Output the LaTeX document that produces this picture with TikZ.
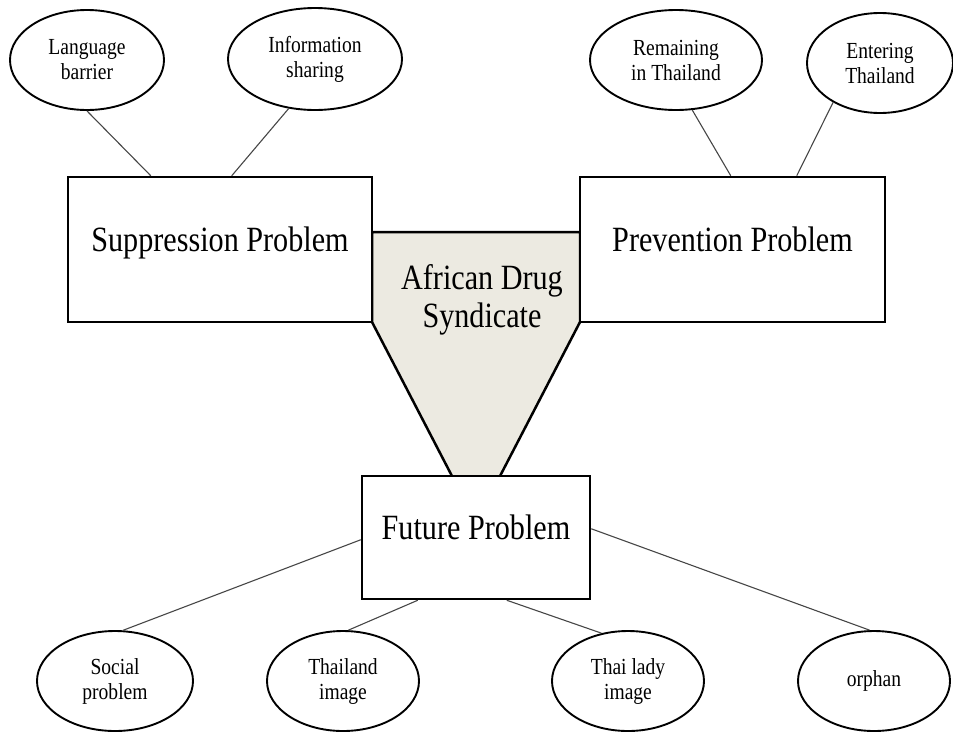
\documentclass[tikz,border=0pt]{standalone}
\usepackage{fontspec}
\setmainfont{Liberation Serif}[FakeStretch=0.85]
\usetikzlibrary{shapes.geometric}
\definecolor{funnelfill}{RGB}{236,234,225}
\definecolor{linkgray}{RGB}{70,70,70}
\begin{document}
\begin{tikzpicture}[x=1pt,y=-1pt,
  bigbox/.style={draw=black,line width=2.5pt,fill=white,rectangle,inner sep=0pt,
    text height=0.7em,text depth=0.22em,font=\fontsize{35.5}{38}\selectfont},
  topic/.style={draw=black,line width=1.9pt,fill=white,ellipse,inner sep=0pt,
    align=center,font=\fontsize{23}{25}\selectfont},
  link/.style={draw=linkgray,line width=1.1pt}]
\useasboundingbox (0,0) rectangle (953,731);

% central funnel, its tip tucked under the top edge of the lower box
\filldraw[fill=funnelfill,line width=2.5pt,line join=miter]
  (372,232) -- (580,232) -- (580,322) -- (499,478) -- (453,478) -- (372,322) -- cycle;
\node[align=center,font=\fontsize{35.5}{38}\selectfont] (ads) at (482,300)
  {African Drug\\Syndicate};

% problem boxes
\node[bigbox,minimum width=304pt,minimum height=145pt] (sup) at (220,249.5) {Suppression Problem};
\node[bigbox,minimum width=305pt,minimum height=145pt] (prev) at (732.5,249.5) {Prevention Problem};
\node[bigbox,minimum width=228pt,minimum height=123pt] (fut) at (476,537.5) {Future Problem};

% top topics
\node[topic,minimum width=154pt,minimum height=100pt] (lb) at (87,60) {Language\\barrier};
\node[topic,minimum width=174pt,minimum height=102pt] (is) at (315,59) {Information\\sharing};
\node[topic,minimum width=172pt,minimum height=100pt] (rt) at (676,60) {Remaining\\in Thailand};
\node[topic,minimum width=146pt,minimum height=100pt] (et) at (880,63) {Entering\\Thailand};

% bottom topics
\node[topic,minimum width=156pt,minimum height=100pt] (sp) at (115,681) {Social\\problem};
\node[topic,minimum width=152pt,minimum height=100pt] (ti) at (343,681) {Thailand\\image};
\node[topic,minimum width=152pt,minimum height=100pt] (tl) at (628,681) {Thai lady\\image};
\node[topic,minimum width=152pt,minimum height=100pt] (or) at (874,681) {orphan};

% connectors
\draw[link] (lb.south) -- ([xshift=84pt]sup.north west);
\draw[link] (is.242) -- ([xshift=165pt]sup.north west);
\draw[link] (rt.288) -- ([xshift=152pt]prev.north west);
\draw[link] (et.220) -- ([xshift=218pt]prev.north west);
\draw[link] (sp.81) -- ([yshift=-65pt]fut.north west);
\draw[link] (ti.84) -- ([xshift=57pt]fut.south west);
\draw[link] (tl.119) -- ([xshift=146pt]fut.south west);
\draw[link] (or.95) -- ([yshift=-54pt]fut.north east);
\end{tikzpicture}
\end{document}
